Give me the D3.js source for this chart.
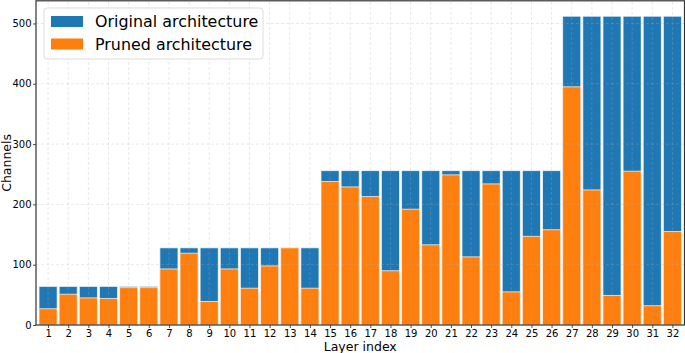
<!DOCTYPE html>
<html>
<head>
<meta charset="utf-8">
<script src="https://cdn.jsdelivr.net/npm/d3@7"></script>
<style>
  body { margin: 0; background: #fff; }
  svg { display: block; font-family: "DejaVu Sans", sans-serif; }
</style>
</head>
<body>
<svg id="chart" width="685" height="353"></svg>
<script>
// layer indices and channel counts
const layers = d3.range(1, 33);
const original = [64, 64, 64, 64, 64, 64,
  128, 128, 128, 128, 128, 128, 128, 128,
  256, 256, 256, 256, 256, 256, 256, 256, 256, 256, 256, 256,
  512, 512, 512, 512, 512, 512];
const pruned = [27, 51, 45, 44, 62, 62,
  93, 119, 39, 93, 61, 98, 128, 61,
  238, 229, 213, 90, 192, 133, 249, 113, 234, 55, 147, 158,
  395, 224, 49, 255, 32, 155];
const yTicks = [0, 100, 200, 300, 400, 500];
const seriesNames = ["Original architecture", "Pruned architecture"];
const colors = ["#1f77b4", "#ff7f0e"];

const MARGIN = { left: 36, right: 0.5, top: 0.8, bottom: 28 };
const W = 685, H = 353;

const svg = d3.select("#chart");

const x = d3.scaleLinear().domain([0.4, 32.6]).range([MARGIN.left, W - MARGIN.right]);
const y = d3.scaleLinear().domain([0, 537.6]).range([H - MARGIN.bottom, MARGIN.top]);
const barW = 0.9;

function drawBars(values, color) {
  svg.append("g")
    .selectAll("rect")
    .data(layers)
    .join("rect")
    .attr("x", (d) => x(d - barW / 2))
    .attr("width", (d) => x(d + barW / 2) - x(d - barW / 2))
    .attr("y", (d, i) => y(values[i]))
    .attr("height", (d, i) => y(0) - y(values[i]))
    .attr("fill", color)
    .attr("stroke", "#fff")
    .attr("stroke-opacity", 0.7)
    .attr("stroke-width", 1);
}
drawBars(original, colors[0]); // blue behind
drawBars(pruned, colors[1]);   // orange in front

// dashed grid on top, faint
const grid = svg.append("g")
  .attr("stroke", "#b0b0b0")
  .attr("stroke-opacity", 0.35)
  .attr("stroke-dasharray", "3,2")
  .attr("stroke-width", 0.8);
grid.selectAll(".gx")
  .data(layers)
  .join("line")
  .attr("x1", (d) => x(d)).attr("x2", (d) => x(d))
  .attr("y1", y.range()[0]).attr("y2", y.range()[1]);
grid.selectAll(".gy")
  .data(yTicks)
  .join("line")
  .attr("x1", x.range()[0]).attr("x2", x.range()[1])
  .attr("y1", (d) => y(d)).attr("y2", (d) => y(d));

// axes
const xAxis = svg.append("g")
  .attr("transform", `translate(0,${y(0)})`)
  .call(d3.axisBottom(x).tickValues(layers).tickFormat(d3.format("d")).tickSize(3).tickPadding(2));
const yAxis = svg.append("g")
  .attr("transform", `translate(${MARGIN.left},0)`)
  .call(d3.axisLeft(y).tickValues(yTicks).tickSize(3).tickPadding(1.5));
[xAxis, yAxis].forEach((g) => {
  g.select(".domain").remove();
  g.selectAll("text").attr("font-size", 10).attr("fill", "#000")
    .attr("font-family", "DejaVu Sans, sans-serif");
  g.selectAll(".tick line").attr("stroke", "#000").attr("stroke-width", 0.7);
});

// spines
svg.append("rect")
  .attr("x", x.range()[0]).attr("y", y.range()[1])
  .attr("width", x.range()[1] - x.range()[0])
  .attr("height", y.range()[0] - y.range()[1])
  .attr("fill", "none")
  .attr("stroke", "#333")
  .attr("stroke-width", 1.2);

// axis labels
svg.append("text")
  .attr("x", (x.range()[0] + x.range()[1]) / 2)
  .attr("y", 351)
  .attr("text-anchor", "middle")
  .attr("font-size", 12.5)
  .text("Layer index");
svg.append("text")
  .attr("transform", `translate(11,${(y.range()[0] + y.range()[1]) / 2}) rotate(-90)`)
  .attr("text-anchor", "middle")
  .attr("font-size", 12.5)
  .text("Channels");

// legend
const legend = svg.append("g").attr("transform", "translate(44,8)");
legend.append("rect")
  .attr("width", 219).attr("height", 51).attr("rx", 3)
  .attr("fill", "#fff").attr("fill-opacity", 0.85)
  .attr("stroke", "#ddd").attr("stroke-width", 1);
seriesNames.forEach((name, i) => {
  const row = legend.append("g").attr("transform", `translate(0,${13.5 + i * 22.5})`);
  row.append("rect")
    .attr("x", 7).attr("y", -5.5).attr("width", 32).attr("height", 11)
    .attr("fill", colors[i]);
  row.append("text")
    .attr("x", 51).attr("y", 0).attr("dy", "0.35em")
    .attr("font-size", 15.9)
    .text(name);
});
</script>
</body>
</html>
